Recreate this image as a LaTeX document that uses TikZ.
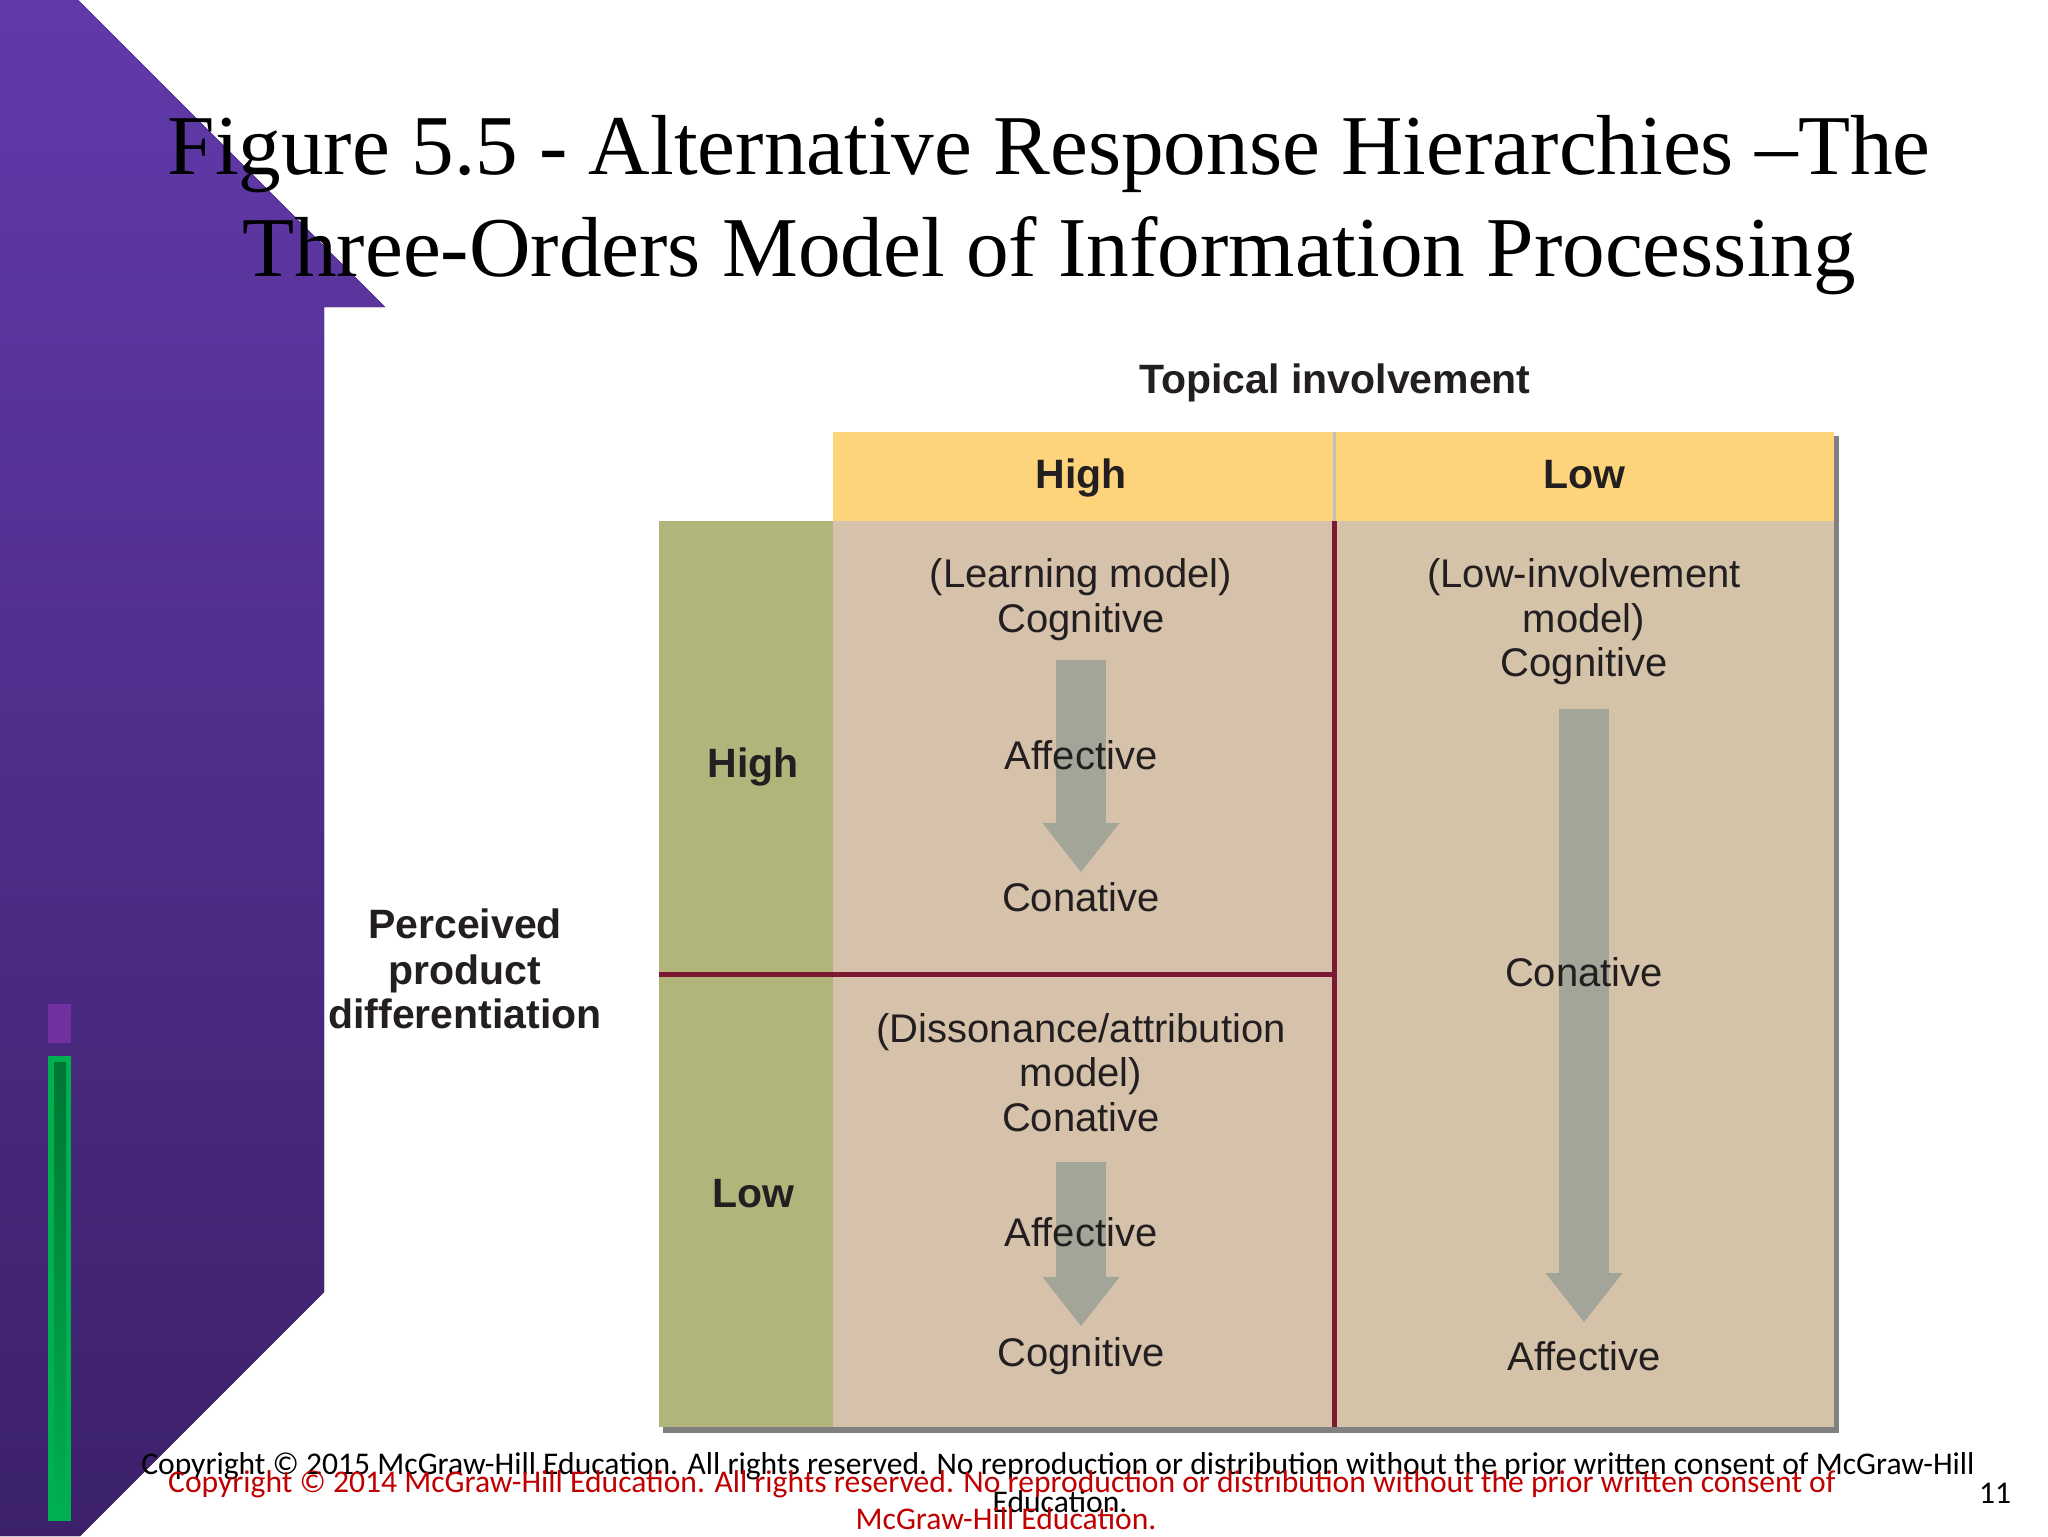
\documentclass[tikz,border=0pt]{standalone}
\usepackage{fontspec}
\setmainfont{Liberation Serif}
\setsansfont{Liberation Sans}
\newfontfamily\footfont{Carlito}
\usetikzlibrary{arrows.meta,positioning,calc}
\definecolor{slidepurple}{RGB}{97,58,170}
\definecolor{slidepurpledk}{RGB}{60,33,106}
\definecolor{tagpurple}{RGB}{112,48,160}
\definecolor{bargreen}{RGB}{0,176,80}
\definecolor{bargreendk}{RGB}{0,118,50}
\definecolor{headyellow}{RGB}{253,212,124}
\definecolor{rowgreen}{RGB}{177,180,123}
\definecolor{cellbeige}{RGB}{214,194,170}
\definecolor{cellbeigeR}{RGB}{212,195,169}
\definecolor{rulered}{RGB}{123,24,50}
\definecolor{arrowgray}{RGB}{162,165,152}
\definecolor{inktext}{RGB}{35,31,32}
\definecolor{footred}{RGB}{192,0,0}

\begin{document}
\begin{tikzpicture}[x=0.5pt, y=-0.5pt,
  ttl/.style={font=\fontsize{42.6}{51}\selectfont, anchor=base, inner sep=0pt},
  hd/.style={font=\sffamily\bfseries\fontsize{20.5}{24}\selectfont,
             text=inktext, anchor=base, inner sep=0pt},
  cell/.style={font=\sffamily\fontsize{20}{22.2}\selectfont,
               text=inktext, anchor=base, inner sep=0pt},
  blockarr/.style={draw=arrowgray, line width=25pt,
                   -{Triangle[width=38.5pt, length=24.5pt, line width=0pt]}},
  foot/.style={font=\footfont\fontsize{15.8}{18}\selectfont, anchor=base, inner sep=0pt},
]

\def\tabL{659}   % table left
\def\tabC{833}   % cells left
\def\tabM{1334}  % column split
\def\tabR{1834}  % table right
\def\hdT{432}    % header top
\def\hdB{521}    % header bottom
\def\rowM{974}   % row split
\def\tabB{1427}  % table bottom

\useasboundingbox (0,0) rectangle (2048,1536);
\fill[white] (0,0) rectangle (2048,1536);

%% --- Slide decoration ---
\fill[top color=slidepurple, bottom color=slidepurpledk]
  (0,0) -- (78,0) -- (385,307) -- (324,307) -- (324,1292) -- (80,1536) -- (0,1536) -- cycle;
\fill[tagpurple] (48,1004) rectangle (71,1043);
\fill[bargreen] (48,1056) rectangle (71,1521);
\shade[top color=bargreendk, bottom color=bargreen] (54,1062) rectangle (66,1515);

%% --- Title ---
\node[ttl] (ttl1) at (1049,174) {Figure 5.5 - Alternative Response Hierarchies –The};
\node[ttl] (ttl2) at (1049,276) {Three-Orders Model of Information Processing};

%% --- Table body ---
\fill[black!50] (\tabC+4,\hdT+4) rectangle (\tabR+5,\tabB+6);
\fill[black!50] (\tabL+4,\hdB) rectangle (\tabC+4,\tabB+6);
\fill[headyellow] (\tabC,\hdT) rectangle (\tabR,\hdB);
\fill[rowgreen] (\tabL,\hdB) rectangle (\tabC,\tabB);
\fill[cellbeige] (\tabC,\hdB) rectangle (\tabM,\tabB);
\fill[cellbeigeR] (\tabM,\hdB) rectangle (\tabR,\tabB);
\draw[black!25, line width=1.5pt] (\tabM,\hdT) -- (\tabM,\hdB);
\draw[rulered, line width=2.5pt] (\tabM,\hdB) -- (\tabM,\tabB);
\draw[rulered, line width=2.5pt] (\tabL,\rowM) -- (\tabM,\rowM);

%% --- Hierarchy arrows ---
\coordinate (hhs) at (1081,660);
\coordinate (hhe) at (1081,872);
\coordinate (lhs) at (1081,1162);
\coordinate (lhe) at (1081,1326);
\coordinate (lows) at (1584,709);
\coordinate (lowe) at (1584,1322);
\draw[blockarr] (hhs) -- (hhe);
\draw[blockarr] (lhs) -- (lhe);
\draw[blockarr] (lows) -- (lowe);

%% --- Headers ---
\node[hd] (topic) at (1335,393) {Topical involvement};
\node[hd] (colhi) at (1081,488) {High};
\node[hd] (collo) at (1584,488) {Low};
\node[hd] (rowhi) at (753,777) {High};
\node[hd] (rowlo) at (753,1207) {Low};
\node[hd] (pd1) at (465,938) {Perceived};
\node[hd] (pd2) at (465,984) {product};
\node[hd] (pd3) at (465,1028) {differentiation};

%% --- High / high: learning model ---
\node[cell] (hh1) at (1081,587) {(Learning model)};
\node[cell] (hh2) at (1081,632) {Cognitive};
\node[cell] (hh3) at (1081,769) {Affective};
\node[cell] (hh4) at (1081,911) {Conative};

%% --- Low diff / high inv: dissonance model ---
\node[cell] (lh1) at (1081,1042) {(Dissonance/attribution};
\node[cell] (lh2) at (1081,1086) {model)};
\node[cell] (lh3) at (1081,1131) {Conative};
\node[cell] (lh4) at (1081,1246) {Affective};
\node[cell] (lh5) at (1081,1366) {Cognitive};

%% --- Low involvement model ---
\node[cell] (lo1) at (1584,587) {(Low-involvement};
\node[cell] (lo2) at (1584,632) {model)};
\node[cell] (lo3) at (1584,676) {Cognitive};
\node[cell] (lo4) at (1584,986) {Conative};
\node[cell] (lo5) at (1584,1370) {Affective};

%% --- Footer ---
\node[foot] (cp15) at (1058,1474) {Copyright © 2015 McGraw-Hill Education.  All rights reserved. No reproduction or distribution without the prior written consent of McGraw-Hill};
\node[foot] (cp15b) at (1060,1512) {Education.};
\node[foot, text=footred] (cp14) at (1002,1492) {Copyright © 2014 McGraw-Hill Education.  All rights reserved. No reproduction or distribution without the prior written consent of};
\node[foot, text=footred] (cp14b) at (1006,1529) {McGraw-Hill Education.};
\node[foot] (pgno) at (1995,1503) {11};

\end{tikzpicture}
\end{document}
